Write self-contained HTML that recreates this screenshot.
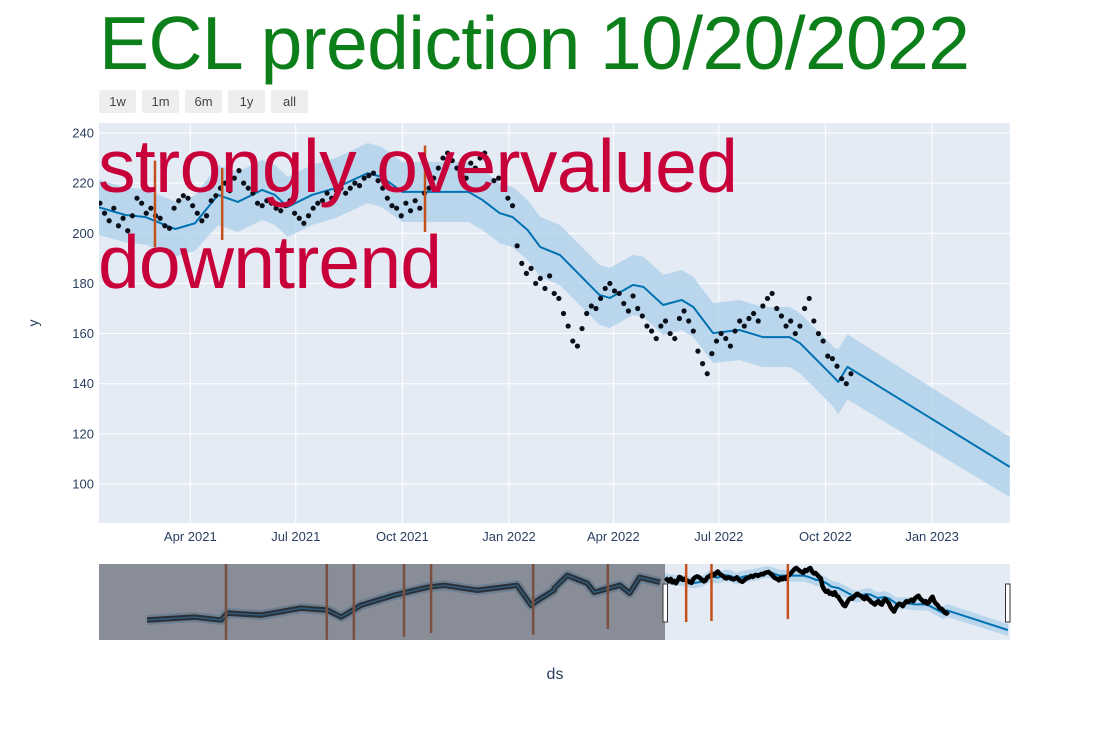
<!DOCTYPE html>
<html><head><meta charset="utf-8">
<style>
body{margin:0;background:#fff;width:1110px;height:740px;overflow:hidden;font-family:"Liberation Sans",Arial,sans-serif;}
svg{display:block}
</style></head>
<body>
<svg id="chart" width="1110" height="740" xmlns="http://www.w3.org/2000/svg">
  <text x="99" y="69" font-size="75" fill="#0c7f1a" font-family="Liberation Sans, sans-serif" textLength="871" lengthAdjust="spacing">ECL prediction 10/20/2022</text>
  <g id="buttons"></g>
  <rect x="99" y="123" width="911" height="400" fill="#e5ebf5"/>
  <g id="grid"></g>
  <g id="main"></g>
  <g id="slider"></g>
  <text x="38" y="323" font-size="14" fill="#2a3f5f" text-anchor="middle" transform="rotate(-90 38 323)">y</text>
  <text x="555" y="679" font-size="16" fill="#2a3f5f" text-anchor="middle">ds</text>
</svg>
<script>
// ---- data (day offsets from 2021-01-01) ----
const trendDays = [10,34,51,77,94,114,131,152,163,174,195,215,243,255,273,295,330,342,357,368,381,392,409,443,452,472,481,498,514,524,541,564,584,607,616,645,649,657,797];
const trendVals = [210.5,207.3,206.5,201.7,204,215.3,212.5,217.3,215.3,210.5,215.3,218,224,222.5,216.5,216.5,216.5,213.3,208,206.5,201.3,194.5,191.3,175.4,174.2,179.4,178.6,171.4,173.4,170.6,160.2,161.4,158.6,158.6,156.2,142.7,140.7,146.7,106.8];
const bandHalf = [11,11,11,11,11,12,12,12,12,12,12,12,12,12,12,12,12,12,12,12,12,12,12,12,12,12,12,12,12,12,12,12,12,12,12,12,13,13,12];
const obsDays = [12,16,20,24,28,32,36,40,44,48,52,56,60,64,68,72,76,80,84,88,92,96,100,104,108,112,116,120,124,128,132,136,140,144,148,152,156,160,164,168,172,176,180,184,188,192,196,200,204,208,212,216,220,224,228,232,236,240,244,248,252,256,260,264,268,272,276,280,284,288,292,296,300,304,308,312,316,320,324,328,332,336,340,344,348,352,356,360,364,368,372,376,380,384,388,392,396,400,404,408,412,416,420,424,428,432,436,440,444,448,452,456,460,464,468,472,476,480,484,488,492,496,500,504,508,512,516,520,524,528,532,536,540,544,548,552,556,560,564,568,572,576,580,584,588,592,596,600,604,608,612,616,620,624,628,632,636,640,644,648,652,656,660];
const obsVals = [212,208,205,210,203,206,201,207,214,212,208,210,207,206,203,202,210,213,215,214,211,208,205,207,213,215,218,220,217,222,225,220,218,216,212,211,213,212,210,209,211,213,208,206,204,207,210,212,213,216,214,217,218,216,218,220,219,222,223,224,221,218,214,211,210,207,212,209,213,210,216,218,222,226,230,232,229,226,224,222,228,226,230,232,225,221,222,218,214,211,195,188,184,186,180,182,178,183,176,174,168,163,157,155,162,168,171,170,174,178,180,177,176,172,169,175,170,167,163,161,158,163,165,160,158,166,169,165,161,153,148,144,152,157,160,158,155,161,165,163,166,168,165,171,174,176,170,167,163,165,160,163,170,174,165,160,157,151,150,147,142,140,144,147];
const eventDays = [59.5,117.5,292.5];
const eventLow = [194.5,197.3,200.5];
const eventHigh = [229,226,235];
// history for range slider (before 2021)
const histDays = [-1176,-1068,-1006,-992,-914,-823,-763,-731,-685,-610,-534,-495,-419,-328,-296,-273,-243,-243,-213,-167,-151,-92,-70,-47,0];
const histVals = [127,133,127,141,137,151,147,133,157,177,193,197,187,197,157,171,187,191,217,201,183,197,181,213,203];
const sliderEventDays = [-995,-764,-702,-587,-525,-291,-120,59.5,117.5,292.5];
const sliderEventLow = [87,87,87,93,101,97,109,123,125,129];
const yTicks = [100,120,140,160,180,200,220,240];
const xTickDays = [90,181,273,365,455,546,638,730];
const xTickLabels = ["Apr 2021","Jul 2021","Oct 2021","Jan 2022","Apr 2022","Jul 2022","Oct 2022","Jan 2023"];
const buttonLabels = ["1w","1m","6m","1y","all"];

const NS="http://www.w3.org/2000/svg";
function mk(tag,attrs,parent){const e=document.createElementNS(NS,tag);for(const k in attrs)e.setAttribute(k,attrs[k]);parent.appendChild(e);return e;}
const X=d=>86+1.159*d;
const Y=v=>133+(240-v)*2.507;
const SX=d=>665+(d-11)*0.4364;
const SY=v=>564+(240-v)*0.496;

// buttons
const gb=document.getElementById('buttons');
buttonLabels.forEach((t,i)=>{
  const g=mk('g',{},gb);
  
  
  mk('rect',{x:99+i*43,y:90,width:37,height:23,rx:2,fill:'#eeeeee'},g);
  const tx=mk('text',{x:117.5+i*43,y:106,'font-size':13,fill:'#444','text-anchor':'middle'},g);
  tx.textContent=t;
});

// grid & ticks
const gg=document.getElementById('grid');
yTicks.forEach(v=>{
  const l=mk('line',{x1:99,x2:1010,y1:Y(v),y2:Y(v),stroke:'#fff','stroke-width':1},gg);
  
  
  const t=mk('text',{x:94,y:Y(v)+4.5,'font-size':13,fill:'#2a3f5f','text-anchor':'end'},gg);
  
  
  t.textContent=v;
});
xTickDays.forEach((d,i)=>{
  const l=mk('line',{x1:X(d),x2:X(d),y1:123,y2:523,stroke:'#fff','stroke-width':1},gg);
  
  
  const t=mk('text',{x:X(d),y:541,'font-size':13,fill:'#2a3f5f','text-anchor':'middle'},gg);
  
  
  t.textContent=xTickLabels[i];
});

function drawSeries(g,xf,yf){
  let up=trendDays.map((d,i)=>xf(d)+','+yf(trendVals[i]+bandHalf[i]));
  let lo=trendDays.map((d,i)=>xf(d)+','+yf(trendVals[i]-bandHalf[i])).reverse();
  const band=mk('polygon',{points:up.concat(lo).join(' '),fill:'#a9cfe8','fill-opacity':0.75},g);
  
  
  const tl=mk('polyline',{points:trendDays.map((d,i)=>xf(d)+','+yf(trendVals[i])).join(' '),fill:'none',stroke:'#0072b2','stroke-width':2,'stroke-linejoin':'round'},g);
  
  
}

// main plot
const gm=document.getElementById('main');
const defs=mk('defs',{},gm);
const cp=mk('clipPath',{id:'pc'},defs);
mk('rect',{x:99,y:123,width:911,height:400},cp);
const gmc=mk('g',{'clip-path':'url(#pc)'},gm);
drawSeries(gmc,X,Y);
obsDays.forEach((d,i)=>{
  const c=mk('circle',{cx:X(d),cy:Y(obsVals[i]),r:2.6,fill:'#0a0f1a'},gmc);
  
  
});
eventDays.forEach((d,i)=>{
  const l=mk('line',{x1:X(d),x2:X(d),y1:Y(eventHigh[i]),y2:Y(eventLow[i]),stroke:'#c4501c','stroke-width':2.5},gmc);
  
  
});
const a1=mk('text',{x:98,y:192,'font-size':75,fill:'#c8003a',textLength:640,lengthAdjust:'spacing'},gm);


a1.textContent='strongly overvalued';
const a2=mk('text',{x:98,y:288,'font-size':75,fill:'#c8003a',textLength:344,lengthAdjust:'spacing'},gm);


a2.textContent='downtrend';

// range slider
const gs=document.getElementById('slider');
mk('rect',{x:99,y:564,width:911,height:76,fill:'#e5ebf5'},gs);
const cp2=mk('clipPath',{id:'sc'},defs);
mk('rect',{x:99,y:564,width:911,height:76},cp2);
const gsc=mk('g',{'clip-path':'url(#sc)'},gs);
const hp=mk('polyline',{points:histDays.map((d,i)=>SX(d)+','+SY(histVals[i])).join(' '),fill:'none',stroke:'#9ec7e3','stroke-width':10,'stroke-linejoin':'round'},gsc);


const hb=mk('polyline',{points:histDays.map((d,i)=>SX(d)+','+SY(histVals[i])).join(' '),fill:'none',stroke:'#000','stroke-width':5.5,'stroke-linejoin':'round'},gsc);


drawSeries(gsc,SX,SY);
const op=mk('polyline',{points:obsDays.map((d,i)=>SX(d)+','+SY(obsVals[i])).join(' '),fill:'none',stroke:'#000','stroke-width':4.5,'stroke-linejoin':'round'},gsc);


const ht=mk('polyline',{points:histDays.map((d,i)=>SX(d)+','+SY(histVals[i])).join(' '),fill:'none',stroke:'#0072b2','stroke-width':1.5},gsc);


sliderEventDays.forEach((d,i)=>{
  const l=mk('line',{x1:SX(d),x2:SX(d),y1:560,y2:SY(sliderEventLow[i]),stroke:'#c4501c','stroke-width':2.5},gsc);
  
  
});
const mask=mk('rect',{x:99,y:564,width:SX(11)-99,height:76,fill:'#4a4e58','fill-opacity':0.6},gs);


const h1=mk('rect',{x:SX(11)-2,y:584,width:4.5,height:38,fill:'#fff',stroke:'#333','stroke-width':1},gs);


const h2=mk('rect',{x:1005.5,y:584,width:4.5,height:38,fill:'#fff',stroke:'#333','stroke-width':1},gs);


</script>
</body></html>
